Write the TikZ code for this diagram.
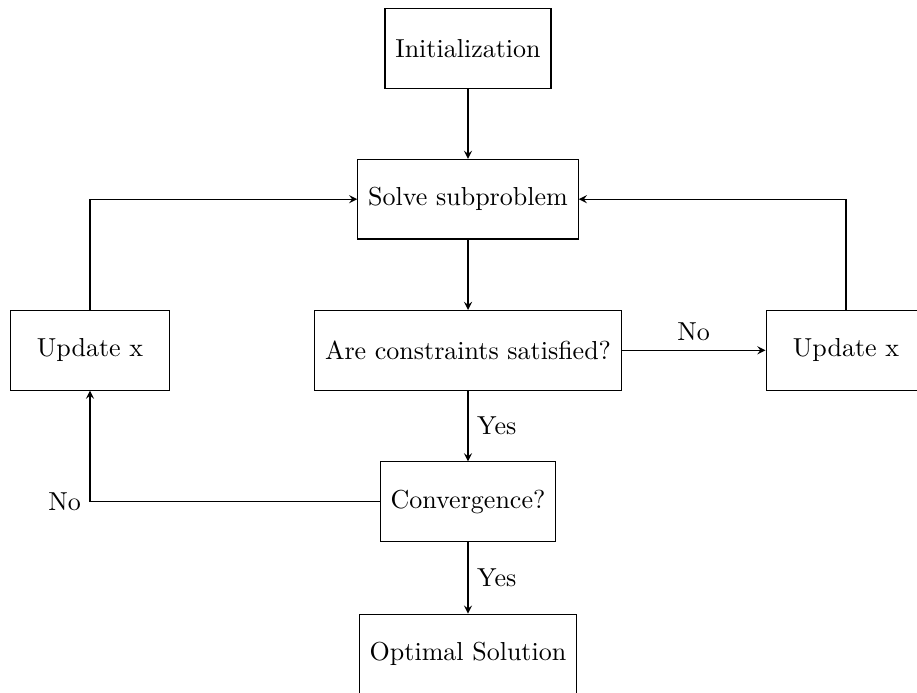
\documentclass[tikz,border=0pt]{standalone}
\usetikzlibrary{arrows}
\begin{document}
\begin{tikzpicture}[x=0.3846pt,y=-0.3846pt,>=stealth,
  box/.style={draw, rectangle, minimum height=30.6pt, inner xsep=4pt, inner ysep=0pt},
  conn/.style={->}]
\useasboundingbox (0,0) rectangle (917,693);
\node[box] (init) at (468,48.7) {Initialization};
\node[box] (solve) at (468,199.2) {Solve subproblem};
\node[box] (cons) at (468,350.3) {Are constraints satisfied?};
\node[box, minimum width=61.5pt] (updL) at (90,350.3) {Update x};
\node[box, minimum width=61.5pt] (updR) at (846,350.3) {Update x};
\node[box] (conv) at (468,501.7) {Convergence?};
\node[box] (opt) at (468,654) {Optimal Solution};
\draw[conn] (init) -- (solve);
\draw[conn] (solve) -- (cons);
\draw[conn] (cons) -- node[above]{No} (updR);
\draw[conn] (updR.north) |- (solve.east);
\draw[conn] (cons) -- node[right]{Yes} (conv);
\draw[conn] (conv.west) -| node[pos=0.5, left]{No} (updL.south);
\draw[conn] (updL.north) |- (solve.west);
\draw[conn] (conv) -- node[right]{Yes} (opt);
\end{tikzpicture}
\end{document}
